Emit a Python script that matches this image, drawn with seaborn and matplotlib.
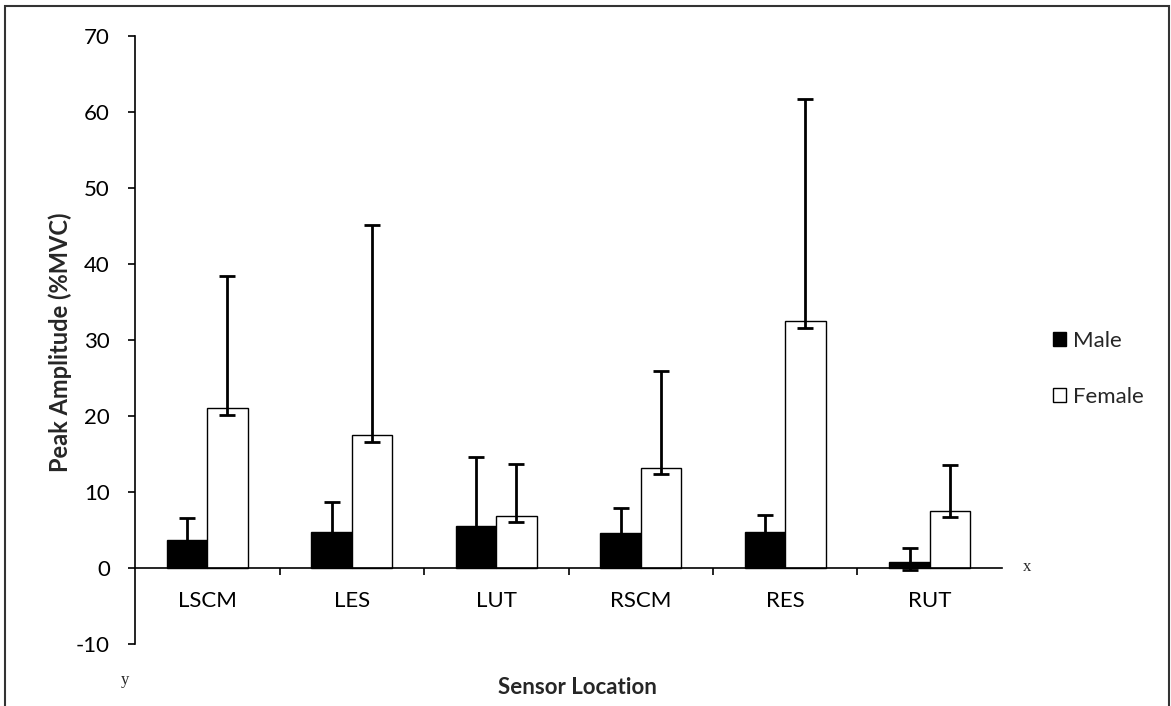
import matplotlib
matplotlib.use("Agg")
import matplotlib.pyplot as plt
import seaborn as sns
import pandas as pd
import numpy as np
from matplotlib.patches import Rectangle, Patch

categories = ["LSCM", "LES", "LUT", "RSCM", "RES", "RUT"]
male_mean = [3.6, 4.7, 5.4, 4.6, 4.7, 0.7]
male_err_up = [2.9, 3.95, 9.1, 3.3, 2.2, 1.9]
male_err_low = [0.9, 0.9, 0.9, 0.9, 0.9, 1.0]
female_mean = [20.95, 17.4, 6.8, 13.1, 32.4, 7.5]
female_err_up = [17.4, 27.7, 6.8, 12.8, 29.3, 6.0]
female_err_low = [0.85, 0.9, 0.8, 0.8, 0.9, 0.85]
groups = ["Male", "Female"]
yticks = [-10, 0, 10, 20, 30, 40, 50, 60, 70]

sns.set_theme(style="white")
plt.rcParams["font.family"] = ["Lato", "DejaVu Sans"]

df = pd.DataFrame({
    "Sensor": categories * 2,
    "Group": ["Male"] * len(categories) + ["Female"] * len(categories),
    "Value": male_mean + female_mean,
})

fig = plt.figure(figsize=(11.71, 7.06), dpi=100)
ax = fig.add_axes([135 / 1171, 1 - 643.5 / 706, (1002 - 135) / 1171, (643.5 - 35.7) / 706])

sns.barplot(data=df, x="Sensor", y="Value", hue="Group", order=categories,
            hue_order=groups, palette={"Male": "black", "Female": "white"},
            edgecolor="black", linewidth=1.0, width=0.56, gap=0,
            errorbar=None, legend=False, ax=ax, zorder=2)

# error bars at the bar centres computed by seaborn
bars = [p for p in ax.patches if isinstance(p, Rectangle)]
n = len(categories)
male_bars = bars[:n]
female_bars = bars[n:2 * n]
for bset, means, lo, up in [(male_bars, male_mean, male_err_low, male_err_up),
                            (female_bars, female_mean, female_err_low, female_err_up)]:
    xs = [b.get_x() + b.get_width() / 2 for b in bset]
    ax.errorbar(xs, means, yerr=[lo, up], fmt="none", ecolor="black",
                elinewidth=2.0, capsize=6, capthick=2.0, zorder=3)

ax.set_xlim(-0.5, 5.5)
ax.set_ylim(-10, 70)
ax.set_yticks(yticks)
ax.set_yticklabels([str(t) for t in yticks])

ax.spines["top"].set_visible(False)
ax.spines["right"].set_visible(False)
ax.spines["bottom"].set_position(("data", 0))
ax.spines["left"].set_linewidth(1.2)
ax.spines["bottom"].set_linewidth(1.2)
ax.spines["left"].set_color("black")
ax.spines["bottom"].set_color("black")

ax.set_xticks(np.arange(n))
ax.set_xticklabels(categories)
ax.set_xticks(np.arange(n - 1) + 0.5, minor=True)
ax.tick_params(axis="x", which="major", length=0, pad=17, labelsize=16, colors="black")
ax.tick_params(axis="x", which="minor", bottom=True, length=5, width=1.2, direction="out", color="black")
ax.tick_params(axis="y", which="major", left=True, length=5, width=1.2, direction="out",
               pad=13, labelsize=16, colors="black")

ax.set_xlabel("")
ax.set_ylabel("")
fig.text(577 / 1171, 1 - 688 / 706, "Sensor Location", ha="center", va="center",
         fontsize=16, fontweight="bold")
fig.text(60 / 1171, 1 - 342 / 706, "Peak Amplitude (%MVC)", ha="center", va="center",
         rotation=90, fontsize=17, fontweight="bold")

fig.text(1027 / 1171, 1 - 567 / 706, "x", ha="center", va="center", fontsize=12,
         family=["Liberation Serif", "DejaVu Serif"])
fig.text(125 / 1171, 1 - 680 / 706, "y", ha="center", va="center", fontsize=12,
         family=["Liberation Serif", "DejaVu Serif"])

handles = [Patch(facecolor="black", edgecolor="black", label="Male"),
           Patch(facecolor="white", edgecolor="black", label="Female")]
fig.legend(handles=handles, loc="center left", bbox_to_anchor=(1033 / 1171, 1 - 369 / 706),
           frameon=False, fontsize=16, handlelength=0.6, handleheight=0.6,
           handletextpad=0.3, labelspacing=1.6)

fig.add_artist(Rectangle((5 / 1171, -0.01), (1169 - 5) / 1171, (706 - 6) / 706 + 0.01,
                         transform=fig.transFigure, fill=False, edgecolor="#333333",
                         linewidth=1.5))

fig.savefig("out.png", dpi=100)
